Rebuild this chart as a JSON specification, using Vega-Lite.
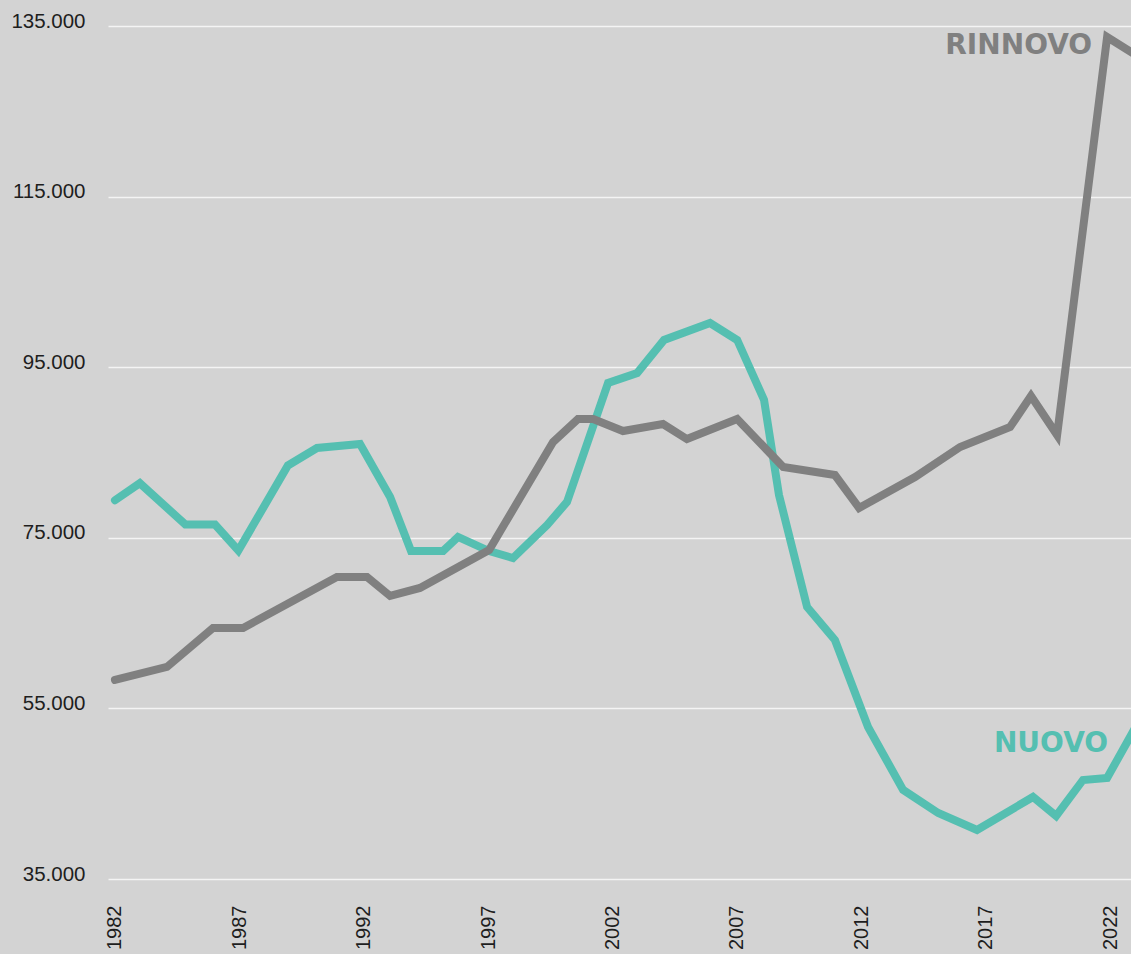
{
  "$schema": "https://vega.github.io/schema/vega-lite/v6.json",
  "autosize": {"type": "none"},
  "padding": {"left": 108, "top": 26, "right": 0, "bottom": 75},
  "width": 1023,
  "height": 853,
  "background": "#d3d3d3",
  "config": {
    "view": {"stroke": null},
    "font": "Liberation Sans"
  },
  "datasets": {
    "lines": [
      {"serie": "NUOVO", "anno": 1982.0, "valore": 79400},
      {"serie": "NUOVO", "anno": 1983.0, "valore": 81400},
      {"serie": "NUOVO", "anno": 1984.83, "valore": 76560},
      {"serie": "NUOVO", "anno": 1986.02, "valore": 76560},
      {"serie": "NUOVO", "anno": 1986.96, "valore": 73510},
      {"serie": "NUOVO", "anno": 1988.95, "valore": 83480},
      {"serie": "NUOVO", "anno": 1990.12, "valore": 85530},
      {"serie": "NUOVO", "anno": 1991.85, "valore": 86000},
      {"serie": "NUOVO", "anno": 1993.06, "valore": 79790},
      {"serie": "NUOVO", "anno": 1993.9, "valore": 73450},
      {"serie": "NUOVO", "anno": 1995.19, "valore": 73450},
      {"serie": "NUOVO", "anno": 1995.79, "valore": 75100},
      {"serie": "NUOVO", "anno": 1997.04, "valore": 73450},
      {"serie": "NUOVO", "anno": 1998.0, "valore": 72630},
      {"serie": "NUOVO", "anno": 1999.37, "valore": 76500},
      {"serie": "NUOVO", "anno": 2000.17, "valore": 79200},
      {"serie": "NUOVO", "anno": 2001.82, "valore": 93150},
      {"serie": "NUOVO", "anno": 2002.99, "valore": 94320},
      {"serie": "NUOVO", "anno": 2004.07, "valore": 98190},
      {"serie": "NUOVO", "anno": 2005.92, "valore": 100180},
      {"serie": "NUOVO", "anno": 2007.01, "valore": 98190},
      {"serie": "NUOVO", "anno": 2008.09, "valore": 91160},
      {"serie": "NUOVO", "anno": 2008.69, "valore": 80020},
      {"serie": "NUOVO", "anno": 2009.82, "valore": 66890},
      {"serie": "NUOVO", "anno": 2010.94, "valore": 63020},
      {"serie": "NUOVO", "anno": 2012.27, "valore": 52820},
      {"serie": "NUOVO", "anno": 2013.68, "valore": 45440},
      {"serie": "NUOVO", "anno": 2015.09, "valore": 42740},
      {"serie": "NUOVO", "anno": 2016.65, "valore": 40750},
      {"serie": "NUOVO", "anno": 2018.9, "valore": 44620},
      {"serie": "NUOVO", "anno": 2019.83, "valore": 42390},
      {"serie": "NUOVO", "anno": 2020.91, "valore": 46610},
      {"serie": "NUOVO", "anno": 2021.88, "valore": 46840},
      {"serie": "NUOVO", "anno": 2023.0, "valore": 52700},
      {"serie": "RINNOVO", "anno": 1982.0, "valore": 58330},
      {"serie": "RINNOVO", "anno": 1984.09, "valore": 59860},
      {"serie": "RINNOVO", "anno": 1985.94, "valore": 64430},
      {"serie": "RINNOVO", "anno": 1987.15, "valore": 64430},
      {"serie": "RINNOVO", "anno": 1990.92, "valore": 70410},
      {"serie": "RINNOVO", "anno": 1992.13, "valore": 70410},
      {"serie": "RINNOVO", "anno": 1993.06, "valore": 68180},
      {"serie": "RINNOVO", "anno": 1994.26, "valore": 69120},
      {"serie": "RINNOVO", "anno": 1997.04, "valore": 73570},
      {"serie": "RINNOVO", "anno": 1999.61, "valore": 86230},
      {"serie": "RINNOVO", "anno": 2000.61, "valore": 88930},
      {"serie": "RINNOVO", "anno": 2001.22, "valore": 88930},
      {"serie": "RINNOVO", "anno": 2002.42, "valore": 87520},
      {"serie": "RINNOVO", "anno": 2004.03, "valore": 88340},
      {"serie": "RINNOVO", "anno": 2004.99, "valore": 86580},
      {"serie": "RINNOVO", "anno": 2007.01, "valore": 88930},
      {"serie": "RINNOVO", "anno": 2008.86, "valore": 83300},
      {"serie": "RINNOVO", "anno": 2010.94, "valore": 82360},
      {"serie": "RINNOVO", "anno": 2011.91, "valore": 78500},
      {"serie": "RINNOVO", "anno": 2014.16, "valore": 82130},
      {"serie": "RINNOVO", "anno": 2015.97, "valore": 85650},
      {"serie": "RINNOVO", "anno": 2017.98, "valore": 87990},
      {"serie": "RINNOVO", "anno": 2018.82, "valore": 91630},
      {"serie": "RINNOVO", "anno": 2019.87, "valore": 87050},
      {"serie": "RINNOVO", "anno": 2021.88, "valore": 133710},
      {"serie": "RINNOVO", "anno": 2023.0, "valore": 131660}
    ],
    "etichette": [
      {"serie": "RINNOVO", "anno": 2021.28, "valore": 131720},
      {"serie": "NUOVO", "anno": 2021.92, "valore": 49890}
    ]
  },
  "layer": [
    {
      "data": {"name": "lines"},
      "mark": {"type": "line", "strokeWidth": 8, "strokeCap": "round", "strokeJoin": "miter", "clip": true},
      "encoding": {
        "x": {
          "field": "anno", "type": "quantitative",
          "scale": {"domain": [1981.72, 2022.84], "nice": false, "zero": false},
          "axis": {
            "values": [1982, 1987, 1992, 1997, 2002, 2007, 2012, 2017, 2022],
            "title": null, "grid": false, "domain": false, "ticks": false,
            "labelAngle": -90, "labelAlign": "right", "labelBaseline": "middle",
            "labelPadding": 26, "labelFontSize": 20, "labelColor": "#1e1e1e",
            "labelFont": "Liberation Sans", "format": "d", "labelOverlap": false, "labelBound": false, "labelFlush": false
          }
        },
        "y": {
          "field": "valore", "type": "quantitative",
          "scale": {"domain": [35000, 135000], "nice": false, "zero": false},
          "axis": {
            "values": [35000, 55000, 75000, 95000, 115000, 135000],
            "title": null, "domain": false, "ticks": false,
            "grid": true, "gridColor": "#f4f4f4", "gridWidth": 1.3,
            "labelAlign": "right", "labelBaseline": "alphabetic", "labelOffset": 1,
            "labelPadding": 23, "labelFontSize": 20.5, "labelColor": "#1e1e1e",
            "labelFont": "Liberation Sans",
            "labelExpr": "replace(format(datum.value, ','), ',', '.')"
          }
        },
        "color": {
          "field": "serie", "type": "nominal",
          "scale": {"domain": ["NUOVO", "RINNOVO"], "range": ["#55bfb1", "#808080"]},
          "legend": null
        },
        "order": {"field": "anno", "type": "quantitative"}
      }
    },
    {
      "data": {"name": "etichette"},
      "mark": {"type": "text", "align": "right", "baseline": "alphabetic", "font": "DejaVu Sans", "fontWeight": "bold", "fontSize": 28},
      "encoding": {
        "x": {"field": "anno", "type": "quantitative"},
        "y": {"field": "valore", "type": "quantitative"},
        "text": {"field": "serie"},
        "color": {"field": "serie", "type": "nominal", "legend": null}
      }
    }
  ]
}
